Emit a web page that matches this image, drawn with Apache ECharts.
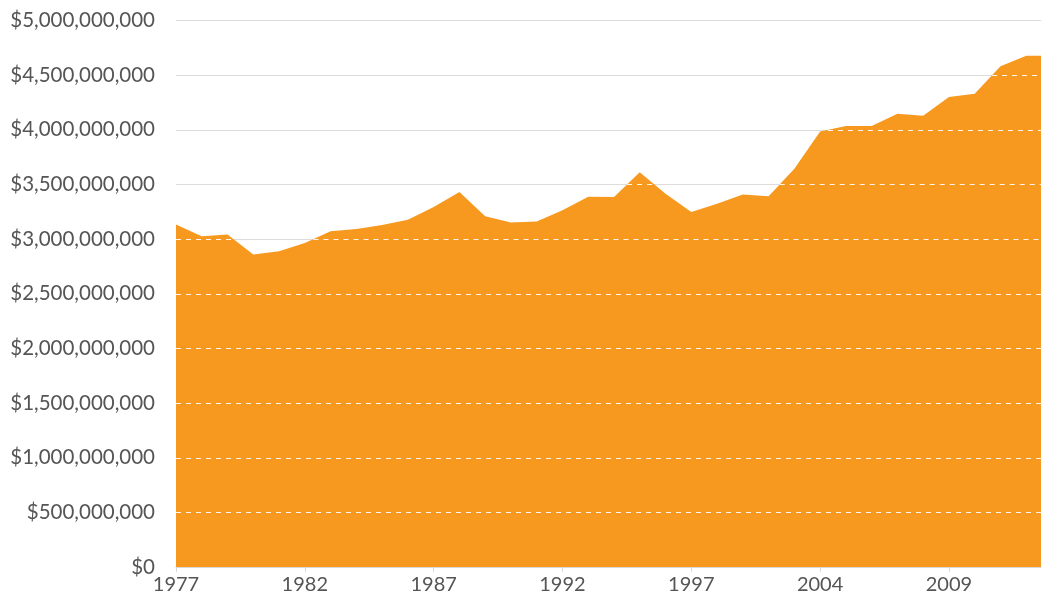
<!DOCTYPE html>
<html>
<head>
<meta charset="utf-8">
<script src="https://cdn.jsdelivr.net/npm/echarts@6/dist/echarts.min.js"></script>
<style>
html,body{margin:0;padding:0;background:#fff;}
#chart{width:1041px;height:600px;}
</style>
</head>
<body>
<div id="chart"></div>
<script>
var years = ['1977','1978','1979','1980','1981','1982','1983','1984','1985','1986','1987','1988','1989','1990','1991','1992','1993','1994','1995','1996','1997','1998','2000','2002','2003','2004','2005','2006','2007','2008','2009','2010','2011','2012','2013'];
var values = [3.133,3.026,3.041,2.858,2.888,2.964,3.071,3.092,3.130,3.178,3.293,3.431,3.208,3.151,3.160,3.263,3.388,3.386,3.611,3.416,3.247,3.324,3.409,3.391,3.644,3.985,4.034,4.034,4.147,4.129,4.299,4.330,4.582,4.677,4.677];
var yTicks = [0,5e8,1e9,1.5e9,2e9,2.5e9,3e9,3.5e9,4e9,4.5e9,5e9];

var seriesData = values.map(function(v){ return Math.round(v*1e9); });
var fontFam = 'Lato, "Open Sans", sans-serif';
var orange = '#f8991f';

// white dashed gridlines, drawn only where they lie inside the filled area
function gridRender(params, api){
  var g = api.value(1);
  var n = seriesData.length;
  var segs = [];
  for (var i = 0; i < n - 1; i++){
    var a = seriesData[i], b = seriesData[i+1];
    var s = null, e = null;
    if (a >= g && b >= g){ s = 0; e = 1; }
    else if (a >= g && b < g){ s = 0; e = (g - a) / (b - a); }
    else if (a < g && b >= g){ s = (g - a) / (b - a); e = 1; }
    if (s === null) continue;
    var p0 = api.coord([i, g]), p1 = api.coord([i+1, g]);
    var x0 = p0[0] + s * (p1[0] - p0[0]);
    var x1 = p0[0] + e * (p1[0] - p0[0]);
    if (segs.length && Math.abs(segs[segs.length-1][1] - x0) < 0.01){
      segs[segs.length-1][1] = x1;
    } else {
      segs.push([x0, x1]);
    }
  }
  var y = Math.round(api.coord([0, g])[1]) + 0.5;
  var children = segs.map(function(sg){
    return {type:'line', shape:{x1:sg[0], y1:y, x2:sg[1], y2:y},
      style:{stroke:'#ffffff', lineWidth:1, lineDash:[5,5], opacity:0.9}};
  });
  return {type:'group', children:children};
}

var chart = echarts.init(document.getElementById('chart'), null, {renderer:'canvas'});
chart.setOption({
  animation:false,
  grid:{left:176, right:-11, top:20.5, bottom:33, containLabel:false, outerBoundsMode:'none'},
  xAxis:{
    type:'category', data:years, boundaryGap:false,
    axisLine:{show:true, lineStyle:{color:'#d9d9d9', width:1}},
    axisTick:{show:true, interval:4, length:5, lineStyle:{color:'#d9d9d9'}},
    axisLabel:{interval:4, color:'#555', fontFamily:fontFam, fontSize:20, margin:8},
    splitLine:{show:false}
  },
  yAxis:{
    type:'value', min:yTicks[0], max:yTicks[yTicks.length-1], interval:5e8,
    axisLine:{show:false}, axisTick:{show:false},
    axisLabel:{color:'#555', fontFamily:fontFam, fontSize:20.5, margin:21,
      formatter:function(v){ return '$' + v.toLocaleString('en-US'); }},
    splitLine:{show:true, lineStyle:{color:'#dcdcdc', width:1}}
  },
  series:[{
    type:'line', data:seriesData, symbol:'none', z:2,
    lineStyle:{width:0, color:orange},
    areaStyle:{color:orange, opacity:1}
  },{
    type:'custom', renderItem:gridRender, z:5, clip:true, silent:true,
    encode:{x:0, y:1},
    data:yTicks.slice(1, yTicks.length-1).map(function(t){ return [0, t]; })
  }]
});
</script>
</body>
</html>
